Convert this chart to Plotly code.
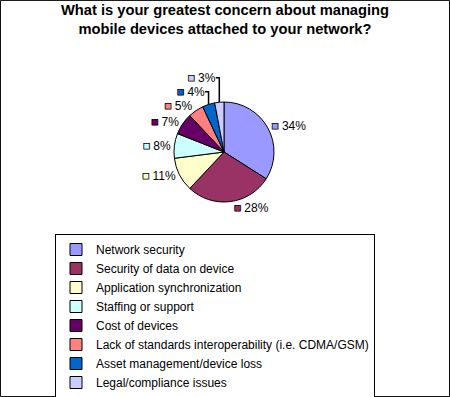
import plotly.graph_objects as go

categories = ["Network security", "Security of data on device", "Application synchronization",
              "Staffing or support", "Cost of devices",
              "Lack of standards interoperability (i.e. CDMA/GSM)",
              "Asset management/device loss", "Legal/compliance issues"]
values = [34, 28, 11, 8, 7, 5, 4, 3]
colors = ["#9999FF", "#993366", "#FFFFCC", "#CCFFFF", "#660066", "#FF8080", "#0066CC", "#CCCCFF"]

FONT = "Liberation Sans, Arial, sans-serif"

texttemplates = ["<span style='color:%s;stroke:#000000;stroke-width:0.8px'>■</span> %%{value}%%" % c
                 for c in colors]

fig = go.Figure(go.Pie(
    labels=categories, values=values, sort=False, direction="clockwise", rotation=0,
    marker=dict(colors=colors, line=dict(color="black", width=1)),
    textposition="outside", texttemplate=texttemplates,
    textfont=dict(family=FONT, size=12, color="black"),
    domain=dict(x=[174/450, 274/450], y=[195/397, 295/397]),
    hoverinfo="label+value",
))

fig.update_layout(
    width=450, height=397, margin=dict(l=0, r=0, t=0, b=0, autoexpand=False),
    paper_bgcolor="white", plot_bgcolor="white",
    font=dict(family=FONT, size=12, color="black"),
    title=dict(text="<b>What is your greatest concern about managing<br>mobile devices attached to your network?</b>",
               x=0.5, xanchor="center", y=0.962, yanchor="top",
               font=dict(family=FONT, size=14.7, color="black")),
    legend=dict(x=55/450, xanchor="left", y=(397-234)/397, yanchor="top",
                bordercolor="black", borderwidth=1, bgcolor="white",
                font=dict(family=FONT, size=12, color="black"),
                traceorder="normal", itemclick=False),
    shapes=[dict(type="rect", xref="paper", yref="paper", x0=0.001, y0=0.001, x1=0.999, y1=0.999,
                 line=dict(color="black", width=1))],
)

fig.write_html("out.html", config=dict(displayModeBar=False),
               post_script="document.body.style.margin='0';document.body.style.overflow='hidden';")
